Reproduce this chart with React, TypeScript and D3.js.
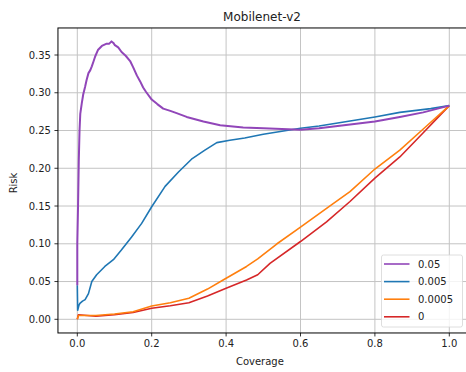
import React from "react";
import * as d3 from "d3";

const purpleC = [0, 0, 0.002, 0.004, 0.006, 0.008, 0.012, 0.016, 0.021, 0.025, 0.030, 0.035, 0.039, 0.044, 0.048, 0.056, 0.066, 0.079, 0.086, 0.092, 0.097, 0.101, 0.110, 0.119, 0.130, 0.142, 0.150, 0.160, 0.169, 0.177, 0.185, 0.200, 0.215, 0.231, 0.250, 0.267, 0.294, 0.339, 0.384, 0.446, 0.5, 0.55, 0.6, 0.65, 0.7, 0.75, 0.8, 0.867, 0.93, 1.0];
const purpleR = [0.045, 0.10, 0.15, 0.21, 0.25, 0.272, 0.286, 0.298, 0.308, 0.317, 0.326, 0.330, 0.335, 0.342, 0.348, 0.357, 0.362, 0.365, 0.365, 0.368, 0.366, 0.363, 0.360, 0.354, 0.349, 0.342, 0.334, 0.323, 0.315, 0.307, 0.301, 0.291, 0.285, 0.279, 0.276, 0.273, 0.268, 0.262, 0.257, 0.254, 0.253, 0.252, 0.251, 0.253, 0.256, 0.259, 0.262, 0.268, 0.274, 0.283];

const blueC = [0, 0.001, 0.004, 0.007, 0.014, 0.021, 0.030, 0.039, 0.052, 0.074, 0.097, 0.119, 0.146, 0.173, 0.2, 0.236, 0.272, 0.307, 0.343, 0.375, 0.41, 0.45, 0.5, 0.55, 0.6, 0.65, 0.7, 0.75, 0.8, 0.867, 0.95, 1.0];
const blueR = [0.045, 0.012, 0.018, 0.021, 0.024, 0.026, 0.034, 0.050, 0.059, 0.070, 0.079, 0.092, 0.109, 0.127, 0.149, 0.176, 0.195, 0.212, 0.224, 0.234, 0.237, 0.240, 0.245, 0.249, 0.253, 0.256, 0.260, 0.264, 0.268, 0.274, 0.279, 0.283];

const orangeC = [0, 0.003, 0.05, 0.1, 0.15, 0.2, 0.25, 0.3, 0.35, 0.392, 0.455, 0.485, 0.536, 0.6, 0.67, 0.733, 0.8, 0.867, 0.93, 1.0];
const orangeR = [0.0, 0.005, 0.005, 0.007, 0.010, 0.0176, 0.022, 0.028, 0.040, 0.052, 0.070, 0.080, 0.0997, 0.122, 0.147, 0.169, 0.199, 0.224, 0.252, 0.283];

const redC = [0, 0.003, 0.05, 0.1, 0.15, 0.2, 0.25, 0.3, 0.35, 0.4, 0.455, 0.485, 0.518, 0.6, 0.67, 0.733, 0.8, 0.867, 0.93, 1.0];
const redR = [0.0, 0.006, 0.004, 0.006, 0.009, 0.0146, 0.018, 0.022, 0.031, 0.041, 0.052, 0.059, 0.074, 0.103, 0.129, 0.156, 0.187, 0.215, 0.247, 0.283];

const seriesNames = ["0.05", "0.005", "0.0005", "0"];
const xTicks = [0, 0.2, 0.4, 0.6, 0.8, 1.0];
const yTicks = [0, 0.05, 0.1, 0.15, 0.2, 0.25, 0.3, 0.35];

const colors = ["#9146b9", "#1f77b4", "#ff7f0e", "#d62728"];
const widths = [2, 1.6, 1.6, 1.6];

export default function App() {
  const W = 466, H = 372;
  const x = d3.scaleLinear().domain([0, 1]).range([77.3, 449.3]);
  const y = d3.scaleLinear().domain([0, 0.35]).range([319.3, 55]);
  const left = x(-0.052), right = x(1.05);
  const top = y(0.3858), bottom = y(-0.0181);

  const series = [
    { c: purpleC, r: purpleR },
    { c: blueC, r: blueR },
    { c: orangeC, r: orangeR },
    { c: redC, r: redR },
  ];
  const line = d3.line<[number, number]>().x(d => x(d[0])).y(d => y(d[1]));
  const font = "DejaVu Sans, sans-serif";

  const lx = 381.5, ly = 255, lw = 81, lh = 72;

  return (
    <svg width={W} height={H} style={{ position: "absolute", left: 0, top: 0 }} fontFamily={font}>
      <rect x={0} y={0} width={W} height={H} fill="#fff" />
      <defs>
        <clipPath id="plot">
          <rect x={left} y={top} width={right - left} height={bottom - top} />
        </clipPath>
      </defs>
      {xTicks.map(t => (
        <line key={"gx" + t} x1={x(t)} x2={x(t)} y1={top} y2={bottom} stroke="#c4c4c4" strokeWidth={1} />
      ))}
      {yTicks.map(t => (
        <line key={"gy" + t} x1={left} x2={right} y1={y(t)} y2={y(t)} stroke="#c4c4c4" strokeWidth={1} />
      ))}
      <g clipPath="url(#plot)">
        {series.map((s, i) => (
          <path key={i} d={line(s.c.map((c, j) => [c, s.r[j]] as [number, number])) || ""}
            fill="none" stroke={colors[i]} strokeWidth={widths[i]} strokeLinejoin="round" />
        )).reverse()}
      </g>
      <rect x={left} y={top} width={right - left} height={bottom - top} fill="none" stroke="#000" strokeWidth={1} />
      {xTicks.map(t => (
        <g key={"tx" + t}>
          <line x1={x(t)} x2={x(t)} y1={bottom} y2={bottom + 3.5} stroke="#000" strokeWidth={0.8} />
          <text x={x(t)} y={bottom + 14} fontSize={10} textAnchor="middle" fill="#222">{t.toFixed(1)}</text>
        </g>
      ))}
      {yTicks.map(t => (
        <g key={"ty" + t}>
          <line x1={left - 3.5} x2={left} y1={y(t)} y2={y(t)} stroke="#000" strokeWidth={0.8} />
          <text x={left - 7} y={y(t) + 3.6} fontSize={10} textAnchor="end" fill="#222">{t.toFixed(2)}</text>
        </g>
      ))}
      <text x={(left + right) / 2 - 3} y={365} fontSize={10} textAnchor="middle" fill="#222">Coverage</text>
      <text transform={`translate(17,183) rotate(-90)`} fontSize={10} textAnchor="middle" fill="#222">Risk</text>
      <text x={262} y={21} fontSize={12} textAnchor="middle" fill="#222">Mobilenet-v2</text>
      <rect x={lx} y={ly} width={lw} height={lh} rx={2} fill="#fff" fillOpacity={0.8} stroke="#d6d6d6" strokeWidth={0.8} />
      {seriesNames.map((n, i) => (
        <g key={n}>
          <line x1={384} x2={409.5} y1={264 + i * 17.6} y2={264 + i * 17.6} stroke={colors[i]} strokeWidth={1.6} />
          <text x={418} y={264 + i * 17.6 + 3.6} fontSize={10} fill="#222">{n}</text>
        </g>
      ))}
    </svg>
  );
}
